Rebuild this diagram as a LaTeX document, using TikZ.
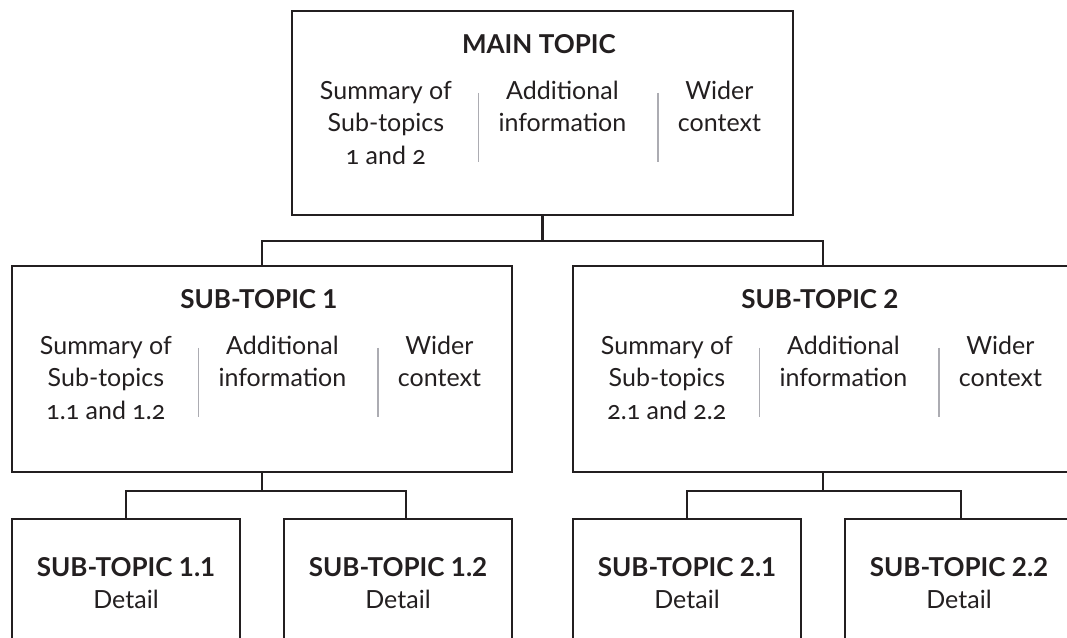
\documentclass[tikz,border=0pt]{standalone}
\usepackage{fontspec}
\setmainfont{Lato}
\newfontfamily\osf{Lato}[Numbers=OldStyle]
\usetikzlibrary{calc}
\setlength\tabcolsep{0pt}
\definecolor{ink}{RGB}{35,31,32}
\definecolor{rule}{RGB}{172,172,178}
\tikzset{
  box/.style={draw=ink, line width=2.2pt, rectangle, inner sep=0pt},
  link/.style={draw=ink, line width=2.2pt},
  sepline/.style={draw=rule, line width=1.6pt},
  ttl/.style={font=\bfseries\fontsize{26}{32.5}\selectfont, text=ink, inner sep=0pt, anchor=base},
  body/.style={font=\fontsize{25}{32.5}\selectfont, text=ink, inner sep=0pt, anchor=base},
}
\newcommand\boxtext[3]{%
  \node[ttl] (#1-t) at ($(#1.north west)+(248,43.5)$) {#2};
  \node[body] (#1-a) at ($(#1.north west)+(95,89.5)$) {\begin{tabular}[t]{c}Summary of\\Sub-topics\\{\osf #3}\end{tabular}};
  \node[body] (#1-b) at ($(#1.north west)+(271.5,89.5)$) {\begin{tabular}[t]{c}Additional\\information\end{tabular}};
  \node[body] (#1-c) at ($(#1.north west)+(428.5,89.5)$) {\begin{tabular}[t]{c}Wider\\context\end{tabular}};
  \draw[sepline] ($(#1.north west)+(187.5,83)$) -- ++(0,69);
  \draw[sepline] ($(#1.north west)+(367,83)$) -- ++(0,69);
}
\newcommand\detailtext[2]{%
  \node[ttl] (#1-t) at ($(#1.north)+(0,59)$) {#2};
  \node[body] (#1-d) at ($(#1.north)+(0,91)$) {Detail};
}
\begin{document}
\begin{tikzpicture}[x=1pt,y=-1pt]
\useasboundingbox (0,0) rectangle (1067,637);
\clip (0,0) rectangle (1067,637);
\fill[white] (0,0) rectangle (1067,637);
% boxes
\node[box, minimum width=501pt, minimum height=204pt] (m) at (542.5,113) {};
\node[box, minimum width=500pt, minimum height=206pt] (s1) at (262,369) {};
\node[box, minimum width=500pt, minimum height=206pt] (s2) at (823,369) {};
\node[box, minimum width=228pt, minimum height=160pt] (d11) at (126,599) {};
\node[box, minimum width=228pt, minimum height=160pt] (d12) at (398,599) {};
\node[box, minimum width=228pt, minimum height=160pt] (d21) at (687,599) {};
\node[box, minimum width=228pt, minimum height=160pt] (d22) at (959,599) {};
% texts
\boxtext{m}{MAIN TOPIC}{1 and 2}
\boxtext{s1}{SUB-TOPIC 1}{1.1 and 1.2}
\boxtext{s2}{SUB-TOPIC 2}{2.1 and 2.2}
\detailtext{d11}{SUB-TOPIC 1.1}
\detailtext{d12}{SUB-TOPIC 1.2}
\detailtext{d21}{SUB-TOPIC 2.1}
\detailtext{d22}{SUB-TOPIC 2.2}
% connectors
\draw[link] (m.south) -- ++(0,25) coordinate (j0);
\draw[link] (j0) -| (s1.north);
\draw[link] (j0) -| (s2.north);
\draw[link] (s1.south) -- ++(0,18) coordinate (j1);
\draw[link] (j1) -| (d11.north);
\draw[link] (j1) -| ([xshift=8pt]d12.north);
\draw[link] (s2.south) -- ++(0,18) coordinate (j2);
\draw[link] (j2) -| (d21.north);
\draw[link] (j2) -| ([xshift=2pt]d22.north);
\end{tikzpicture}
\end{document}
